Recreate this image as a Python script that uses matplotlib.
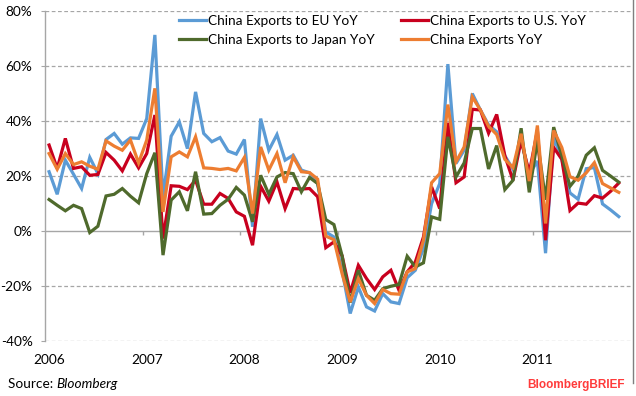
#!/usr/bin/env python3
import numpy as np
import matplotlib
matplotlib.use('Agg')
import matplotlib.pyplot as plt
from matplotlib.lines import Line2D

plt.rcParams['font.family'] = ['Lato', 'DejaVu Sans']

# monthly YoY growth, Jan 2006 - Nov 2011 (percent)
years = ['2006', '2007', '2008', '2009', '2010', '2011']

eu = [21.5, 13.3, 25.7, 20.6, 15.4, 26.7, 20.8, 33.2, 35.4, 31.5, 33.8, 33.6,
      40.8, 71.2, 12.4, 34.4, 39.6, 29.9, 50.5, 35.4, 32.4, 33.9, 29.0, 27.9,
      33.2, 1.5, 40.8, 29.3, 35.0, 25.7, 27.5, 22.1, 21.1, 17.2, -0.4, -2.2,
      -14.3, -30.0, -20.4, -27.6, -29.1, -22.8, -25.8, -26.4, -17.0, -14.3, -6.4, 9.9,
      17.2, 60.6, 24.5, 29.3, 49.9, 43.9, 38.5, 36.0, 27.3, 22.4, 33.4, 20.5,
      25.4, -8.1, 34.0, 26.0, 13.8, 11.5, 22.6, 23.0, 9.8, 7.6, 5.2]

us = [31.2, 22.7, 33.6, 22.7, 23.3, 20.2, 20.5, 28.5, 25.7, 21.8, 27.9, 22.9,
      28.1, 42.1, -2.8, 16.4, 16.2, 15.0, 18.4, 9.7, 9.7, 13.6, 11.8, 6.9,
      5.3, -5.2, 16.2, 10.8, 17.8, 8.1, 15.4, 15.2, 15.4, 12.4, -6.1, -4.0,
      -9.0, -22.5, -12.5, -17.3, -21.3, -16.7, -14.3, -21.6, -14.9, -11.3, -2.2, 16.0,
      8.1, 39.3, 17.5, 19.6, 44.2, 43.9, 35.5, 42.3, 27.3, 18.4, 32.8, 21.1,
      36.5, -3.4, 30.3, 26.0, 7.4, 10.1, 9.7, 12.8, 11.9, 14.4, 17.4]

japan = [11.4, 9.3, 7.3, 9.3, 8.1, -0.6, 1.7, 12.7, 13.3, 15.4, 12.6, 10.2,
         20.8, 28.4, -8.8, 11.2, 14.2, 7.3, 21.5, 6.1, 6.3, 9.3, 11.5, 15.8,
         13.0, 3.3, 20.2, 13.3, 19.6, 21.2, 20.8, 14.2, 19.4, 17.2, 4.1, 2.3,
         -9.0, -26.0, -14.3, -23.4, -25.2, -21.0, -20.1, -19.5, -9.2, -13.1, -11.6, 5.1,
         4.2, 34.2, 19.6, 24.7, 37.2, 37.2, 22.5, 31.0, 15.0, 18.4, 37.3, 14.0,
         32.8, 11.3, 37.7, 27.3, 16.2, 19.9, 27.5, 30.2, 22.0, 19.9, 17.7]

total = [28.1, 22.4, 28.1, 24.1, 25.1, 23.5, 22.4, 32.7, 30.8, 29.3, 33.0, 24.7,
         33.0, 51.8, 6.9, 26.9, 28.7, 26.9, 34.2, 22.9, 22.7, 22.3, 22.7, 21.8,
         26.7, 6.3, 30.5, 22.1, 28.1, 17.5, 26.9, 21.5, 21.2, 18.8, -1.9, -3.2,
         -15.5, -25.8, -17.3, -23.4, -26.4, -21.3, -22.8, -23.0, -14.9, -13.7, -3.4, 17.5,
         20.8, 45.9, 25.1, 30.5, 48.7, 43.9, 38.0, 35.0, 26.0, 23.0, 35.3, 18.1,
         38.3, 2.7, 36.5, 30.3, 19.7, 18.4, 21.1, 24.8, 17.2, 15.6, 14.0]

series = [
    ('China Exports to EU YoY', eu, '#5B9BD5'),
    ('China Exports to U.S. YoY', us, '#C8001E'),
    ('China Exports to Japan YoY', japan, '#4F6A2C'),
    ('China Exports YoY', total, '#ED7D31'),
]

fig = plt.figure(figsize=(6.36, 3.96), dpi=100)
ax = fig.add_axes([45 / 636, 1 - 341 / 396, 586 / 636, 330.3 / 396])

x = np.arange(len(eu))
handles = {}
for name, vals, col in series:
    ln, = ax.plot(x, vals, color=col, lw=2.3, label=name, solid_joinstyle='miter')
    handles[name] = ln

ax.set_xlim(-0.5, 71.5)
ax.set_ylim(-40, 80)

# grid
for v in range(-40, 81, 20):
    if v == 0:
        ax.axhline(0, color='#A6A6A6', lw=1.0, zorder=0)
    else:
        ax.axhline(v, color='#A6A6A6', lw=0.9, ls=(0, (3, 2)), zorder=0)
ax.vlines(np.arange(11.5, 60, 12), -1.5, 0, color='#A6A6A6', lw=1.0)

for s in ['top', 'right', 'bottom']:
    ax.spines[s].set_visible(False)
ax.spines['left'].set_color('#A6A6A6')
ax.spines['left'].set_linewidth(1.0)

ax.set_yticks(range(-40, 81, 20))
ax.set_yticklabels([f'{v}%' for v in range(-40, 81, 20)])
ax.tick_params(axis='y', length=3, color='#A6A6A6', pad=6, labelsize=9.8)
ax.set_xticks(np.arange(0, 61, 12))
ax.set_xticklabels(years)
ax.tick_params(axis='x', length=0, pad=9, labelsize=9.8)

order = ['China Exports to EU YoY', 'China Exports to Japan YoY',
         'China Exports to U.S. YoY', 'China Exports YoY']
fig.legend([handles[k] for k in order], order, ncol=2, frameon=False,
           loc='upper left', bbox_to_anchor=(179 / 636, 1 - 15 / 396),
           fontsize=9.8, handlelength=2.0, handletextpad=0.15,
           columnspacing=1.9, labelspacing=0.5, borderpad=0, borderaxespad=0)

# footer
t1 = fig.text(8 / 636, 1 - 384 / 396, 'Source: ', fontsize=9.8, va='center')
fig.canvas.draw()
bb = t1.get_window_extent()
fig.text(bb.x1 / fig.bbox.width, 1 - 384 / 396, 'Bloomberg', fontsize=9.8,
         style='italic', va='center')
fig.text(625 / 636, 1 - 385 / 396, 'BloombergBRIEF', fontsize=8.5, fontweight='bold',
         color='#FF3B3B', ha='right', va='center', family='Liberation Sans')

fig.add_artist(Line2D([633 / 636, 633 / 636], [1, 1 - 383 / 396],
                      color='#7F7F7F', lw=1.0))

fig.savefig('out.png', dpi=100)
